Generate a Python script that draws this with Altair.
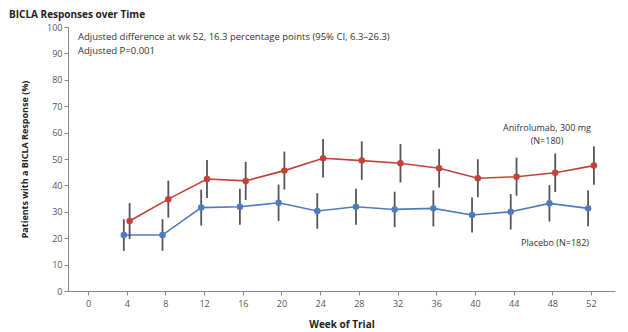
import altair as alt
import pandas as pd

weeks = [4, 8, 12, 16, 20, 24, 28, 32, 36, 40, 44, 48, 52]
anif = [26.5, 34.8, 42.4, 41.7, 45.6, 50.3, 49.4, 48.4, 46.5, 42.7, 43.3, 44.8, 47.5]
anif_err = [6.8, 7.0, 7.2, 7.2, 7.2, 7.3, 7.3, 7.3, 7.3, 7.2, 7.2, 7.3, 7.3]
plac = [21.2, 21.2, 31.6, 31.9, 33.4, 30.3, 31.9, 30.9, 31.3, 28.8, 30.0, 33.2, 31.3]
plac_err = [6.0, 6.0, 6.8, 6.8, 6.9, 6.7, 6.8, 6.7, 6.8, 6.6, 6.7, 6.9, 6.8]
series = ["Anifrolumab", "Placebo"]
offsets = [0.3, -0.3]
colors = ["#c6403a", "#4e7bbd"]
x_ticks = list(range(0, 53, 4))
y_ticks = list(range(0, 101, 10))

rows = []
for s, vals, errs, off in [(series[0], anif, anif_err, offsets[0]), (series[1], plac, plac_err, offsets[1])]:
    for w, v, e in zip(weeks, vals, errs):
        rows.append({"series": s, "week": w, "off": off, "value": v, "lo": v - e, "hi": v + e})
df = pd.DataFrame(rows)

FONT = "Open Sans"
xscale = alt.Scale(domain=[-2.07, 54.48], nice=False, zero=False)
yscale = alt.Scale(domain=[0, 100], nice=False)
cscale = alt.Scale(domain=series, range=colors)

x_axis = alt.Axis(values=x_ticks, title="Week of Trial", grid=False,
                  labelColor="#555", labelFontSize=9, titleFontSize=10, titleFontWeight="bold",
                  titleColor="#222", domainColor="#888", tickColor="#888", tickSize=4,
                  titlePadding=11, labelPadding=4, labelOverlap=False)
y_axis = alt.Axis(values=y_ticks, title="Patients with a BICLA Response (%)",
                  grid=False, labelColor="#555", labelFontSize=9, titleFontSize=9,
                  titleFontWeight="bold", titleColor="#222", domainColor="#888",
                  tickColor="#888", tickSize=4, titlePadding=17, labelPadding=2,
                  labelOverlap=False)

base = alt.Chart(df).transform_calculate(xp="datum.week + datum.off")

lines = base.mark_line(strokeWidth=1.6).encode(
    x=alt.X("xp:Q", scale=xscale, axis=x_axis),
    y=alt.Y("value:Q", scale=yscale, axis=y_axis),
    color=alt.Color("series:N", scale=cscale, legend=None),
    detail="series:N")
bars = base.mark_rule(color="#555", strokeWidth=1.8).encode(
    x=alt.X("xp:Q", scale=xscale, axis=x_axis),
    y=alt.Y("lo:Q", scale=yscale, axis=y_axis),
    y2="hi:Q", detail="series:N")
pts = base.mark_circle(size=42, opacity=1).encode(
    x=alt.X("xp:Q", scale=xscale, axis=x_axis),
    y=alt.Y("value:Q", scale=yscale, axis=y_axis),
    color=alt.Color("series:N", scale=cscale, legend=None))

texts = ["BICLA Responses over Time",
         "Adjusted difference at wk 52, 16.3 percentage points (95% CI, 6.3\u201326.3)",
         "Adjusted P=0.001",
         "Anifrolumab, 300 mg", "(N=180)", "Placebo (N=182)"]

def txt(t, px, py, align="left", size=9.5, weight="normal", color="#333"):
    return alt.Chart(pd.DataFrame({"t": [t]})).mark_text(
        align=align, baseline="middle", fontSize=size, fontWeight=weight, color=color, font=FONT
    ).encode(x=alt.value(px), y=alt.value(py), text="t:N")

title = txt(texts[0], -59, -12, size=10, weight="bold", color="#222")
ann1 = txt(texts[1], 10, 10)
ann2 = txt(texts[2], 10, 24)
lab1 = txt(texts[3], 479, 101, align="center", size=9)
lab2 = txt(texts[4], 479, 114, align="center", size=9)
lab3 = txt(texts[5], 487, 216, align="center", size=9)

chart = alt.layer(lines, bars, pts, title, ann1, ann2, lab1, lab2, lab3).properties(
    width=547, height=264,
    autosize=alt.AutoSizeParams(type="none"),
    padding={"left": 60, "top": 19, "right": 5, "bottom": 40},
).configure_view(stroke=None).configure_axis(labelFont=FONT, titleFont=FONT)

chart.save("out.html", embed_options={"renderer": "svg", "actions": False})
